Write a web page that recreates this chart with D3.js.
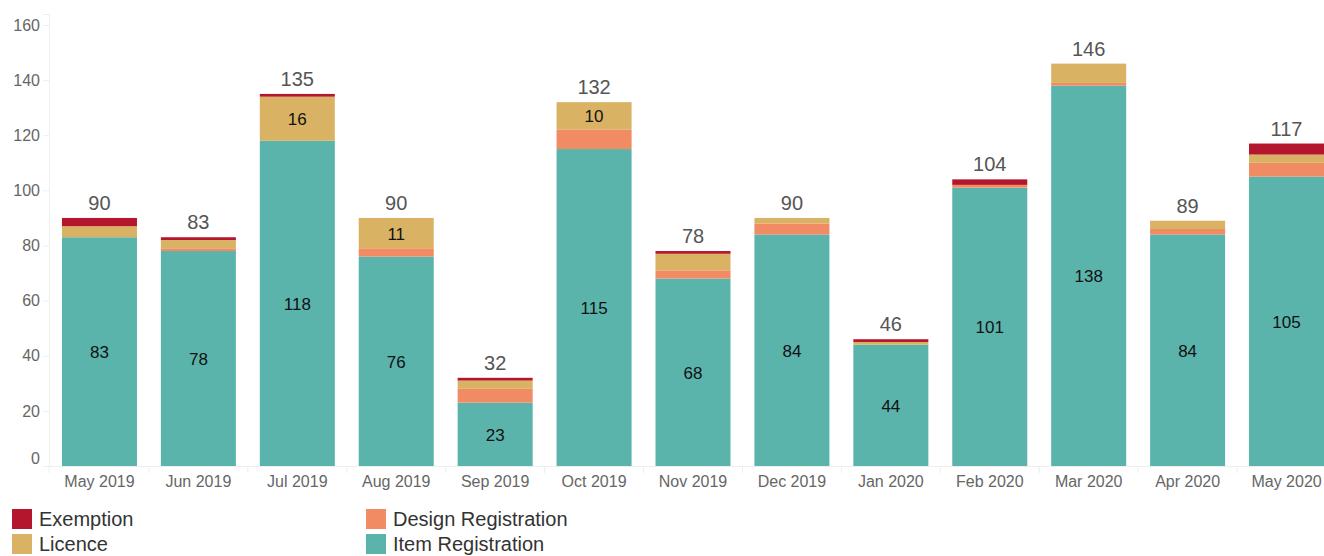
<!DOCTYPE html>
<html>
<head>
<meta charset="utf-8">
<script src="https://cdn.jsdelivr.net/npm/d3@7"></script>
<style>
  html, body { margin: 0; padding: 0; background: #fff; }
  svg { display: block; font-family: "Liberation Sans", Arial, sans-serif; }
</style>
</head>
<body>
<svg id="chart" width="1324" height="556"></svg>
<script>
const months = ["May 2019","Jun 2019","Jul 2019","Aug 2019","Sep 2019","Oct 2019","Nov 2019","Dec 2019","Jan 2020","Feb 2020","Mar 2020","Apr 2020","May 2020"];
const itemRegistration   = [83, 78, 118, 76, 23, 115, 68, 84, 44, 101, 138, 84, 105];
const designRegistration = [0, 1, 0, 3, 5, 7, 3, 4, 0, 1, 1, 2, 5];
const licence            = [4, 3, 16, 11, 3, 10, 6, 2, 1, 0, 7, 3, 3];
const exemption          = [3, 1, 1, 0, 1, 0, 1, 0, 1, 2, 0, 0, 4];
const yTicks = [0, 20, 40, 60, 80, 100, 120, 140, 160];

const seriesNames = ["Item Registration", "Design Registration", "Licence", "Exemption"];
const seriesColors = {
  "Item Registration": "#5ab4ac",
  "Design Registration": "#f08b63",
  "Licence": "#d9b263",
  "Exemption": "#b4172d"
};
const seriesData = {
  "Item Registration": itemRegistration,
  "Design Registration": designRegistration,
  "Licence": licence,
  "Exemption": exemption
};

const table = months.map((m, i) => {
  const row = { month: m };
  seriesNames.forEach(s => row[s] = seriesData[s][i]);
  return row;
});

const svg = d3.select("#chart");

const x = d3.scaleBand().domain(months).range([49, 1337]).paddingInner(0.2417).paddingOuter(0.131);
const y = d3.scaleLinear().domain([0, 164]).range([466, 14]);

// y axis
const yAxis = svg.append("g").attr("transform", "translate(49,0)")
  .call(d3.axisLeft(y).tickValues(yTicks).tickSize(6).tickPadding(3));
yAxis.select(".domain").attr("stroke", "#eeeeee");
yAxis.selectAll(".tick line").attr("stroke", "#eeeeee");
yAxis.selectAll(".tick text").attr("fill", "#666").style("font-size", "16px")
  .attr("dy", d => d === 0 ? "-0.18em" : "0.32em");

// x axis
const xAxis = svg.append("g").attr("transform", "translate(0,466)")
  .call(d3.axisBottom(x).tickSize(0).tickPadding(10));
xAxis.select(".domain").attr("stroke", "#eeeeee");
xAxis.selectAll(".tick text").attr("fill", "#666").style("font-size", "16px");
// separators between bands
const step = x.step();
const seps = [x.range()[0]].concat(months.slice(1).map(m => x(m) - (step - x.bandwidth()) / 2));
svg.append("g").selectAll("line").data(seps).join("line")
  .attr("x1", d => d).attr("x2", d => d)
  .attr("y1", 466).attr("y2", 473)
  .attr("stroke", "#eeeeee");

// stacks
const stack = d3.stack().keys(seriesNames)(table);

const layers = svg.append("g").selectAll("g").data(stack).join("g")
  .attr("fill", d => seriesColors[d.key]);
layers.selectAll("rect").data(d => d).join("rect")
  .attr("x", d => x(d.data.month))
  .attr("width", x.bandwidth())
  .attr("y", d => y(d[1]))
  .attr("height", d => y(d[0]) - y(d[1]));

// inner labels
const inner = svg.append("g");
stack.forEach(layer => {
  layer.forEach(d => {
    const v = d[1] - d[0];
    const h = y(d[0]) - y(d[1]);
    if (h >= 25) {
      inner.append("text")
        .attr("x", x(d.data.month) + x.bandwidth() / 2)
        .attr("y", (y(d[0]) + y(d[1])) / 2)
        .attr("dy", "0.38em")
        .attr("text-anchor", "middle")
        .attr("fill", "#111")
        .style("font-size", "17px")
        .text(v);
    }
  });
});

// totals
svg.append("g").selectAll("text").data(table).join("text")
  .attr("x", d => x(d.month) + x.bandwidth() / 2)
  .attr("y", d => y(d3.sum(seriesNames, s => d[s])) - 8)
  .attr("text-anchor", "middle")
  .attr("fill", "#555")
  .style("font-size", "20px")
  .text(d => d3.sum(seriesNames, s => d[s]));

// legend
const legendItems = [
  { name: "Exemption", col: 0, row: 0 },
  { name: "Design Registration", col: 1, row: 0 },
  { name: "Licence", col: 0, row: 1 },
  { name: "Item Registration", col: 1, row: 1 }
];
const legend = svg.append("g").selectAll("g").data(legendItems).join("g")
  .attr("transform", d => `translate(${12 + d.col * 354},${509 + d.row * 25})`);
legend.append("rect").attr("width", 20).attr("height", 20)
  .attr("fill", d => seriesColors[d.name]);
legend.append("text").attr("x", 27).attr("y", 10).attr("dy", "0.35em")
  .attr("fill", "#333").style("font-size", "20px")
  .text(d => d.name);
</script>
</body>
</html>
